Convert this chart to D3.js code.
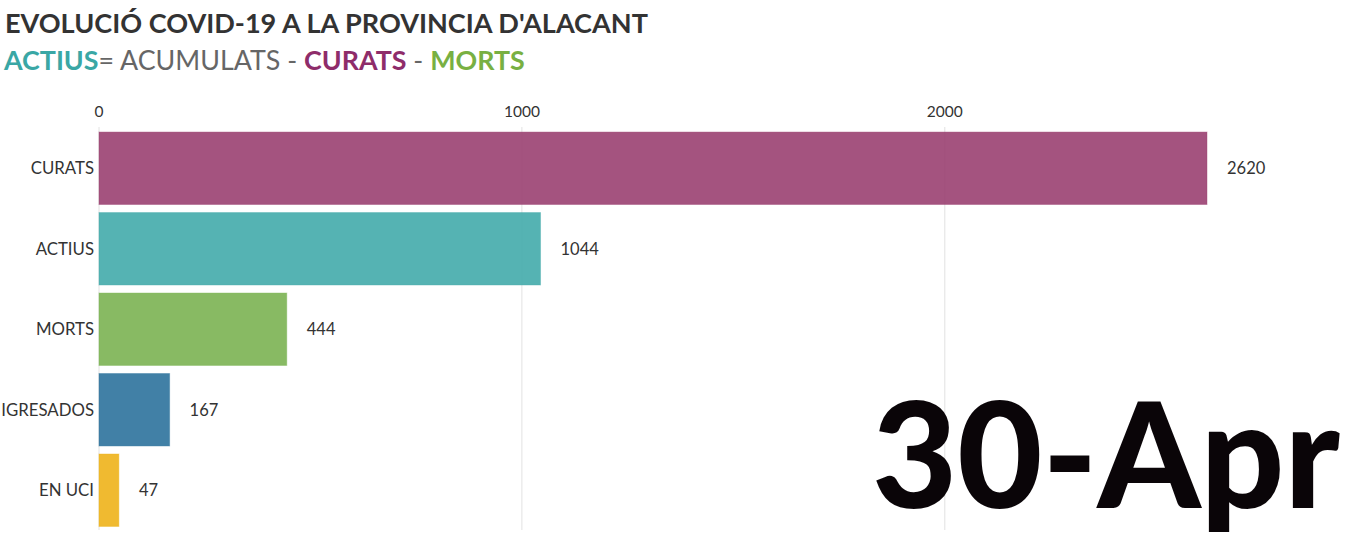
<!DOCTYPE html>
<html>
<head>
<meta charset="utf-8">
<script src="https://cdn.jsdelivr.net/npm/d3@7"></script>
<style>
  body { margin: 0; background: #fff; }
  text { font-family: Lato, "Open Sans", sans-serif; }
</style>
</head>
<body>
<div id="chart"></div>
<script>
var categories = ["CURATS", "ACTIUS", "MORTS", "IGRESADOS", "EN UCI"];
var values = [2620, 1044, 444, 167, 47];
var barColors = ["#9a4071", "#43abab", "#7bb352", "#2c729c", "#eeb319"];
var tickValues = [0, 1000, 2000];
var dateLabel = "30-Apr";

var width = 1348,
  height = 548;

var svg = d3
  .select("#chart")
  .append("svg")
  .attr("width", width)
  .attr("height", height);

var x = d3.scaleLinear().domain([0, d3.max(values)]).range([99, 1207]);
var y = d3
  .scaleBand()
  .domain(categories)
  .range([124, 534.5])
  .padding(0.1);

// scale a text's font size so it spans the wanted width
function fitWidth(sel, size, target) {
  var len = sel.node().getComputedTextLength();
  sel.attr("font-size", (size * target) / len);
}

// title and subtitle
var title = svg
  .append("text")
  .attr("x", 5)
  .attr("y", 33)
  .attr("font-size", 27)
  .attr("font-weight", "bold")
  .attr("fill", "#333")
  .text("EVOLUCIÓ COVID-19 A LA PROVINCIA D'ALACANT");
fitWidth(title, 27, 643);

var sub = svg
  .append("text")
  .attr("x", 4)
  .attr("y", 70)
  .attr("font-size", 28);
sub.append("tspan").attr("font-weight", "bold").attr("fill", "#3aa7a5").text("ACTIUS");
sub.append("tspan").attr("fill", "#666").text("= ACUMULATS - ");
sub.append("tspan").attr("font-weight", "bold").attr("fill", "#8e2c6a").text("CURATS");
sub.append("tspan").attr("fill", "#666").text(" - ");
sub.append("tspan").attr("font-weight", "bold").attr("fill", "#78b042").text("MORTS");
fitWidth(sub, 28, 521);

// grid + top axis labels
var grid = svg.append("g");
grid
  .selectAll("line")
  .data(tickValues)
  .enter()
  .append("line")
  .attr("x1", function (d) { return x(d); })
  .attr("x2", function (d) { return x(d); })
  .attr("y1", 127)
  .attr("y2", 530)
  .attr("stroke", "#e2e2e2")
  .attr("stroke-width", 1);

grid
  .selectAll("text")
  .data(tickValues)
  .enter()
  .append("text")
  .attr("x", function (d) { return x(d); })
  .attr("y", 117)
  .attr("text-anchor", "middle")
  .attr("font-size", 15.5)
  .attr("fill", "#333")
  .text(function (d) { return d; });

// bars
var rows = categories.map(function (c, i) {
  return { name: c, value: values[i], color: barColors[i] };
});

svg
  .selectAll(".bar")
  .data(rows)
  .enter()
  .append("rect")
  .attr("class", "bar")
  .attr("x", x(0))
  .attr("y", function (d) { return y(d.name); })
  .attr("width", function (d) { return x(d.value) - x(0); })
  .attr("height", y.bandwidth())
  .attr("fill", function (d) { return d.color; })
  .attr("fill-opacity", 0.9)
  .attr("stroke", function (d) { return d.color; })
  .attr("stroke-opacity", 0.4)
  .attr("stroke-width", 1);

svg
  .selectAll(".cat")
  .data(rows)
  .enter()
  .append("text")
  .attr("class", "cat")
  .attr("x", 94)
  .attr("y", function (d) { return y(d.name) + y.bandwidth() / 2; })
  .attr("dy", "0.35em")
  .attr("text-anchor", "end")
  .attr("font-size", 16.8)
  .attr("fill", "#333")
  .text(function (d) { return d.name; });

svg
  .selectAll(".val")
  .data(rows)
  .enter()
  .append("text")
  .attr("class", "val")
  .attr("x", function (d) { return x(d.value) + 20; })
  .attr("y", function (d) { return y(d.name) + y.bandwidth() / 2; })
  .attr("dy", "0.35em")
  .attr("font-size", 16.5)
  .attr("fill", "#333")
  .text(function (d) { return d.value; });

// big date label
var date = svg
  .append("text")
  .attr("x", 1340)
  .attr("y", 508)
  .attr("text-anchor", "end")
  .attr("font-size", 146)
  .attr("font-weight", "900")
  .attr("fill", "#0a0508")
  .text(dateLabel);
date
  .attr("textLength", 468)
  .attr("lengthAdjust", "spacingAndGlyphs");
</script>
</body>
</html>
